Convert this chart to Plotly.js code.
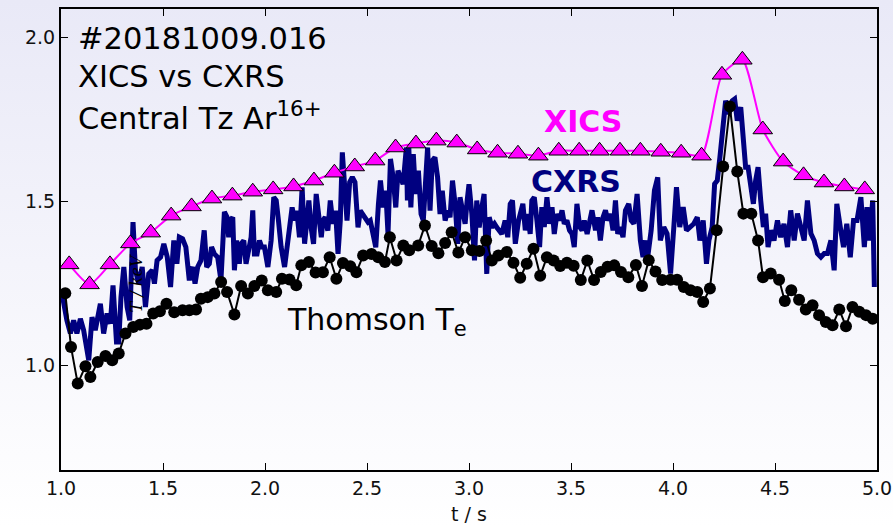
<!DOCTYPE html>
<html>
<head>
<meta charset="utf-8">
<script src="https://cdn.plot.ly/plotly-3.0.1.min.js"></script>
<style>
html,body{margin:0;padding:0;}
body{width:893px;height:527px;background:linear-gradient(to bottom,#e9e9f7 0%,#f4f4fb 50%,#ffffff 100%);}
#chart{width:893px;height:527px;}
</style>
</head>
<body>
<div id="chart"></div>
<script>
// XICS central Tz (keV)
const xicsTime = [1.04,1.14,1.24,1.34,1.44,1.54,1.64,1.74,1.84,1.94,2.04,2.14,2.24,2.34,2.44,2.54,2.64,2.74,2.84,2.94,3.04,3.14,3.24,3.34,3.44,3.54,3.64,3.74,3.84,3.94,4.04,4.14,4.24,4.34,4.44,4.54,4.64,4.74,4.84,4.94];
const xicsTz = [1.308,1.247,1.308,1.372,1.405,1.457,1.485,1.509,1.518,1.530,1.537,1.546,1.564,1.588,1.607,1.625,1.665,1.677,1.686,1.680,1.659,1.649,1.646,1.640,1.655,1.655,1.655,1.655,1.655,1.652,1.649,1.640,1.887,1.933,1.720,1.622,1.580,1.558,1.546,1.537];

// Thomson Te (keV)
const thomsonTime = [1.021,1.049,1.082,1.120,1.144,1.180,1.218,1.251,1.283,1.316,1.354,1.387,1.419,1.452,1.485,1.517,1.555,1.596,1.629,1.662,1.686,1.719,1.752,1.785,1.814,1.850,1.883,1.916,1.948,1.984,2.014,2.055,2.083,2.120,2.153,2.178,2.215,2.248,2.284,2.317,2.350,2.382,2.418,2.448,2.481,2.522,2.555,2.588,2.612,2.645,2.678,2.707,2.751,2.784,2.817,2.850,2.883,2.915,2.948,2.981,3.014,3.051,3.084,3.112,3.144,3.185,3.218,3.251,3.283,3.316,3.349,3.382,3.415,3.447,3.480,3.513,3.548,3.580,3.613,3.646,3.679,3.712,3.745,3.781,3.818,3.848,3.881,3.914,3.947,3.988,4.020,4.053,4.086,4.119,4.148,4.181,4.214,4.246,4.279,4.315,4.345,4.384,4.417,4.441,4.479,4.520,4.548,4.580,4.618,4.651,4.684,4.716,4.749,4.782,4.815,4.848,4.880,4.913,4.946,4.979];
const thomsonTe = [1.220,1.056,0.944,0.997,0.964,1.010,1.028,1.015,1.036,1.097,1.117,1.124,1.127,1.158,1.165,1.188,1.162,1.168,1.168,1.170,1.203,1.208,1.219,1.254,1.224,1.155,1.242,1.219,1.242,1.259,1.229,1.224,1.264,1.262,1.244,1.305,1.315,1.283,1.284,1.330,1.264,1.312,1.302,1.284,1.335,1.340,1.330,1.315,1.391,1.320,1.366,1.351,1.366,1.427,1.364,1.342,1.373,1.406,1.344,1.391,1.351,1.349,1.381,1.320,1.335,1.346,1.313,1.267,1.310,1.356,1.273,1.330,1.320,1.303,1.313,1.304,1.260,1.320,1.260,1.285,1.301,1.305,1.285,1.269,1.306,1.242,1.321,1.286,1.260,1.261,1.261,1.239,1.229,1.224,1.193,1.234,1.412,1.607,1.790,1.592,1.463,1.463,1.381,1.269,1.280,1.261,1.196,1.229,1.200,1.170,1.183,1.153,1.132,1.122,1.170,1.119,1.178,1.163,1.153,1.142];

// CXRS Tz (keV)
const cxrsTime = [1.005,1.016,1.029,1.046,1.062,1.078,1.095,1.111,1.136,1.152,1.168,1.193,1.209,1.226,1.242,1.255,1.272,1.283,1.294,1.308,1.324,1.337,1.353,1.365,1.381,1.398,1.414,1.430,1.447,1.458,1.471,1.488,1.504,1.521,1.537,1.553,1.568,1.580,1.596,1.612,1.629,1.637,1.645,1.657,1.670,1.686,1.702,1.714,1.727,1.738,1.752,1.768,1.784,1.801,1.814,1.822,1.830,1.842,1.850,1.861,1.874,1.883,1.896,1.907,1.919,1.932,1.940,1.948,1.961,1.973,1.984,1.997,2.014,2.030,2.043,2.055,2.066,2.079,2.096,2.112,2.133,2.145,2.156,2.169,2.182,2.194,2.205,2.215,2.226,2.238,2.251,2.264,2.276,2.284,2.295,2.308,2.320,2.333,2.346,2.358,2.369,2.379,2.390,2.402,2.415,2.428,2.441,2.456,2.467,2.480,2.493,2.505,2.516,2.530,2.543,2.556,2.566,2.579,2.592,2.603,2.615,2.628,2.641,2.652,2.664,2.677,2.693,2.698,2.705,2.715,2.727,2.738,2.752,2.765,2.776,2.788,2.797,2.809,2.820,2.833,2.846,2.858,2.869,2.883,2.896,2.907,2.919,2.932,2.945,2.956,2.968,2.981,2.991,3.000,3.014,3.027,3.038,3.050,3.063,3.074,3.087,3.099,3.112,3.125,3.136,3.148,3.161,3.177,3.190,3.202,3.213,3.227,3.243,3.264,3.276,3.287,3.300,3.308,3.320,3.333,3.346,3.357,3.369,3.382,3.395,3.407,3.418,3.431,3.444,3.456,3.467,3.480,3.493,3.505,3.516,3.529,3.543,3.554,3.565,3.579,3.592,3.603,3.620,3.631,3.644,3.657,3.669,3.680,3.693,3.706,3.718,3.729,3.742,3.755,3.767,3.783,3.795,3.808,3.824,3.840,3.853,3.865,3.876,3.893,3.909,3.925,3.938,3.955,3.971,3.988,4.004,4.017,4.033,4.050,4.066,4.086,4.102,4.119,4.132,4.148,4.164,4.176,4.192,4.204,4.217,4.230,4.246,4.258,4.274,4.291,4.302,4.315,4.332,4.345,4.356,4.368,4.381,4.394,4.405,4.417,4.430,4.443,4.454,4.466,4.479,4.495,4.512,4.528,4.544,4.561,4.577,4.594,4.610,4.626,4.643,4.659,4.676,4.692,4.708,4.725,4.741,4.757,4.774,4.790,4.803,4.820,4.836,4.852,4.869,4.885,4.902,4.921,4.938,4.951,4.962,4.979,4.987];
const cxrsTz = [1.218,1.178,1.137,1.097,1.137,1.097,1.142,1.107,1.015,1.147,1.107,1.188,1.097,1.158,1.127,1.244,1.071,1.071,1.208,1.300,1.178,1.137,1.437,1.290,1.249,1.300,1.178,1.279,1.290,1.249,1.320,1.330,1.371,1.330,1.239,1.381,1.310,1.391,1.386,1.361,1.259,1.290,1.300,1.249,1.300,1.320,1.412,1.300,1.310,1.361,1.340,1.330,1.259,1.468,1.452,1.391,1.442,1.452,1.290,1.381,1.310,1.371,1.381,1.310,1.361,1.391,1.473,1.340,1.340,1.381,1.361,1.361,1.300,1.381,1.513,1.503,1.442,1.361,1.300,1.391,1.482,1.442,1.472,1.391,1.543,1.371,1.462,1.503,1.421,1.371,1.523,1.452,1.391,1.442,1.452,1.411,1.503,1.432,1.472,1.340,1.442,1.650,1.564,1.442,1.559,1.574,1.559,1.421,1.472,1.462,1.452,1.437,1.442,1.391,1.360,1.492,1.564,1.482,1.533,1.401,1.630,1.574,1.482,1.594,1.574,1.553,1.665,1.503,1.665,1.482,1.645,1.523,1.594,1.462,1.442,1.594,1.665,1.472,1.625,1.635,1.574,1.462,1.533,1.442,1.472,1.452,1.564,1.492,1.371,1.513,1.472,1.432,1.503,1.553,1.462,1.320,1.503,1.421,1.482,1.523,1.279,1.452,1.421,1.432,1.421,1.411,1.401,1.442,1.391,1.492,1.503,1.371,1.442,1.493,1.412,1.462,1.401,1.503,1.513,1.442,1.361,1.483,1.422,1.513,1.432,1.483,1.401,1.462,1.442,1.473,1.432,1.442,1.412,1.401,1.361,1.493,1.422,1.412,1.442,1.401,1.442,1.473,1.412,1.452,1.381,1.452,1.473,1.442,1.462,1.412,1.503,1.401,1.422,1.391,1.473,1.493,1.442,1.432,1.523,1.381,1.330,1.381,1.330,1.412,1.534,1.574,1.381,1.422,1.402,1.280,1.422,1.544,1.422,1.483,1.412,1.422,1.432,1.452,1.381,1.442,1.310,1.381,1.422,1.554,1.564,1.635,1.737,1.808,1.767,1.808,1.813,1.747,1.788,1.686,1.605,1.605,1.534,1.493,1.564,1.605,1.503,1.422,1.463,1.361,1.412,1.381,1.442,1.391,1.432,1.361,1.473,1.381,1.463,1.422,1.381,1.503,1.402,1.381,1.341,1.330,1.341,1.341,1.381,1.290,1.493,1.422,1.361,1.432,1.330,1.442,1.442,1.513,1.361,1.483,1.381,1.503,1.239];

const xTicks = [1.0,1.5,2.0,2.5,3.0,3.5,4.0,4.5,5.0];
const yTicks = [1.0,1.5,2.0];

const FONT = 'DejaVu Sans, Liberation Sans, sans-serif';

const traces = [
  {x: cxrsTime, y: cxrsTz, type:'scatter', mode:'lines', name:'CXRS',
   line:{color:'#000080', width:5}, hoverinfo:'skip'},
  {x: thomsonTime, y: thomsonTe, type:'scatter', mode:'lines+markers', name:'Thomson',
   line:{color:'#000000', width:2}, marker:{color:'#000000', size:12, symbol:'circle'}},
  {x: xicsTime, y: xicsTz, type:'scatter', mode:'lines+markers', name:'XICS',
   line:{color:'#ff00ff', width:2, shape:'spline', smoothing:0.6},
   marker:{color:'#ff00ff', size:17, symbol:'triangle-up', line:{color:'#000000', width:1}}}
];

const axisCommon = {
  showgrid:false, zeroline:false, showline:true, linecolor:'#000', linewidth:2,
  mirror:'allticks', ticks:'inside', ticklen:7, tickwidth:1, tickcolor:'#000',
  tickfont:{family:FONT, size:19, color:'#111'}, tickformat:'.1f'
};

const layout = {
  width:893, height:527,
  margin:{l:61, r:16, t:9, b:57},
  paper_bgcolor:'rgba(0,0,0,0)', plot_bgcolor:'rgba(0,0,0,0)',
  showlegend:false,
  font:{family:FONT, color:'#000'},
  xaxis: Object.assign({}, axisCommon, {range:[1,5], tickvals:xTicks,
    title:{text:'t / s', font:{family:FONT, size:19, color:'#111'}, standoff:10}}),
  yaxis: Object.assign({}, axisCommon, {range:[0.68,2.088], tickvals:yTicks}),
  annotations:[
    {xref:'x', yref:'y', x:1.075, y:1.997, xanchor:'left', yanchor:'middle', showarrow:false,
     text:'#20181009.016', font:{family:FONT, size:30.5, color:'#000'}},
    {xref:'x', yref:'y', x:1.075, y:1.881, xanchor:'left', yanchor:'middle', showarrow:false,
     text:'XICS vs CXRS', font:{family:FONT, size:30.5, color:'#000'}},
    {xref:'x', yref:'y', x:1.075, y:1.762, xanchor:'left', yanchor:'middle', showarrow:false,
     text:'Central Tz Ar<sup>16+</sup>', font:{family:FONT, size:30.5, color:'#000'}},
    {xref:'x', yref:'y', x:3.36, y:1.745, xanchor:'left', yanchor:'middle', showarrow:false,
     text:'<b>XICS</b>', font:{family:FONT, size:30, color:'#ff00ff'}},
    {xref:'x', yref:'y', x:3.295, y:1.562, xanchor:'left', yanchor:'middle', showarrow:false,
     text:'<b>CXRS</b>', font:{family:FONT, size:30, color:'#000080'}},
    {xref:'x', yref:'y', x:2.10, y:1.135, xanchor:'left', yanchor:'middle', showarrow:false,
     text:'Thomson T<sub>e</sub>', font:{family:FONT, size:30, color:'#000'}},
    {xref:'x', yref:'y', x:1.368, y:1.25, xanchor:'center', yanchor:'middle', showarrow:false,
     textangle:-90, text:'<i>T / keV</i>', font:{family:'DejaVu Serif, serif', size:16, color:'#000'}}
  ]
};

Plotly.newPlot('chart', traces, layout, {displayModeBar:false, staticPlot:true});
</script>
</body>
</html>
